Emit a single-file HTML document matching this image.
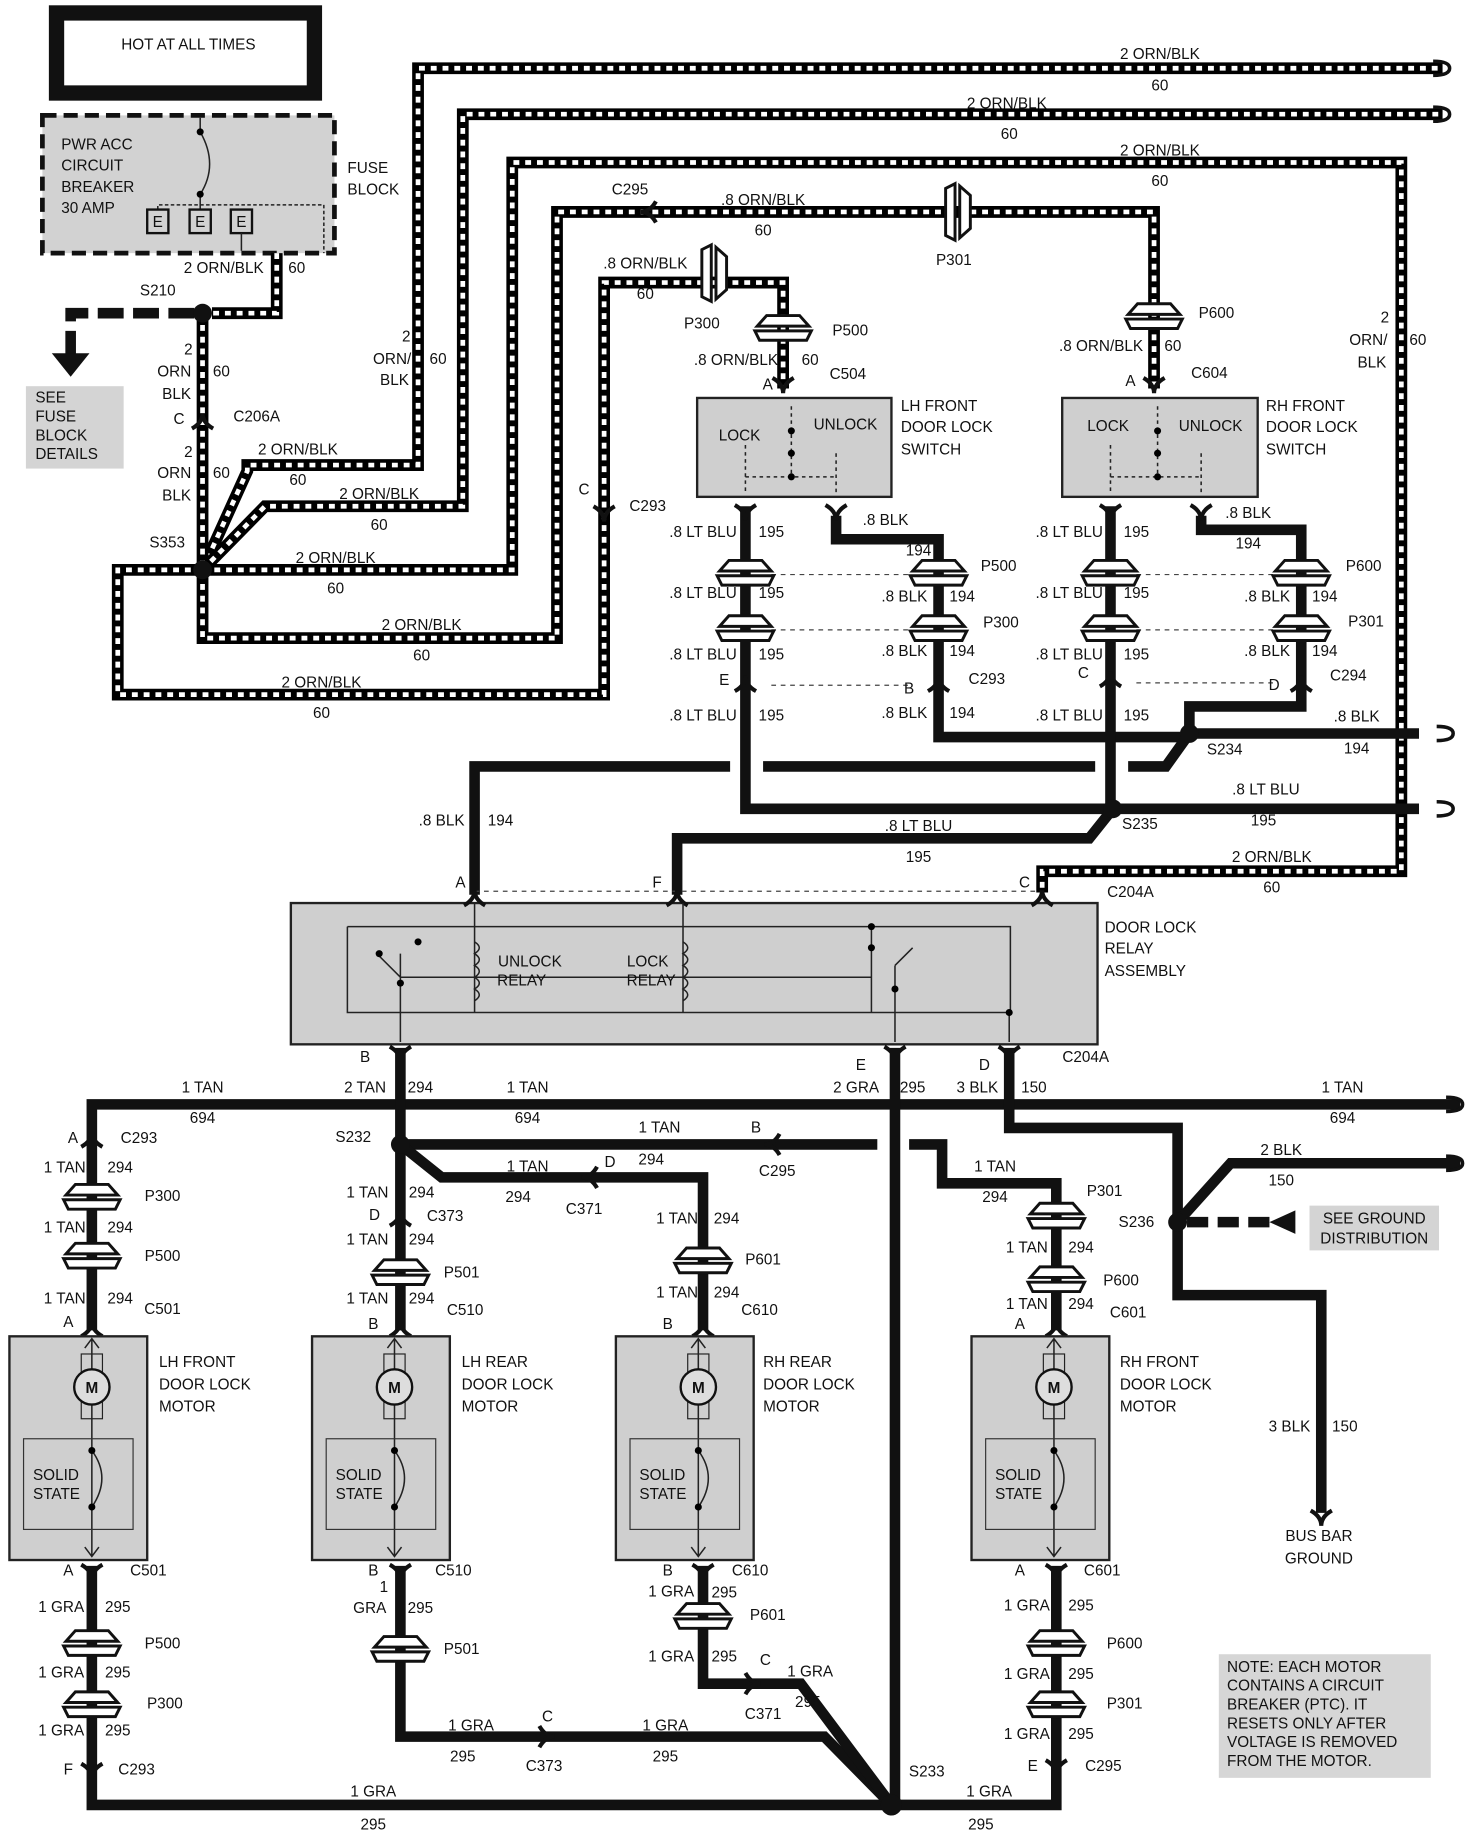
<!DOCTYPE html>
<html><head><meta charset="utf-8"><style>
html,body{margin:0;padding:0;background:#fff}
svg{display:block}
text{font-family:"Liberation Sans",sans-serif;font-size:13px;fill:#111;text-anchor:middle}
.l{text-anchor:start}
.hb{stroke:#000;stroke-width:10;fill:none;stroke-linejoin:miter}
.hw{stroke:#fff;stroke-width:4;stroke-dasharray:5 5;fill:none}
.s{stroke:#111;stroke-width:9;fill:none}
.t{stroke:#222;stroke-width:1.3;fill:none}
.d{stroke:#444;stroke-width:1;fill:none;stroke-dasharray:4 4}
.g{fill:#cfcfcf;stroke:#222;stroke-width:2}
</style></head><body>
<svg width="1472" height="1832" viewBox="0 0 1250 1556" preserveAspectRatio="none" xmlns="http://www.w3.org/2000/svg">
<defs>
<g id="plug"><path d="M-14,-12 L14,-12 L22,-3 L-22,-3 Z" fill="#fff" stroke="#111" stroke-width="2.5"/><path d="M-24,1 L24,1 L20,9 L-20,9 Z" fill="#fff" stroke="#111" stroke-width="2.5"/></g>
<g id="conn"><path d="M-9,-7 Q0,-2 0,6 M9,-7 Q0,-2 0,6" stroke="#111" stroke-width="3.5" fill="none"/></g>
<g id="ends"><path d="M-8,-6 Q6,-6 6,0 Q6,6 -8,6" stroke="#111" stroke-width="3" fill="none"/></g>
<path id="h1" d="M172,484 L210,400 L210,395 L355,395 L355,58 L1225,58"/>
<path id="h2" d="M172,484 L225,430 L393,430 L393,97 L1225,97"/>
<path id="h3" d="M172,484 L435,484 L435,138 L1190,138 L1190,740 L885,740 L885,758"/>
<path id="h4" d="M172,266 L172,542 L473,542 L473,180 L980,180 L980,330"/>
<path id="h5" d="M172,484 L100,484 L100,590 L513,590 L513,240 L665,240 L665,330"/>
<path id="h6" d="M235,215 L235,266 L180,266"/>
</defs>

<rect x="48" y="11" width="219" height="68" fill="#fff" stroke="#111" stroke-width="13"/>
<text x="160" y="42">HOT AT ALL TIMES</text>

<rect x="36" y="98" width="248" height="117" fill="#d2d2d2" stroke="#111" stroke-width="4" stroke-dasharray="12 6"/>
<text class="l" x="52" y="127">PWR ACC</text><text class="l" x="52" y="145">CIRCUIT</text><text class="l" x="52" y="163">BREAKER</text><text class="l" x="52" y="181">30 AMP</text>
<path class="t" d="M170,100 L170,112 Q186,140 170,165 L170,178"/>
<circle cx="170" cy="112" r="3"/><circle cx="170" cy="165" r="3"/>
<path class="t" d="M134,178 L134,174 L275,174 L275,215" stroke-dasharray="3 2"/>
<rect x="125" y="178" width="18" height="20" fill="none" stroke="#111" stroke-width="2"/><text x="134" y="193">E</text>
<rect x="161" y="178" width="18" height="20" fill="none" stroke="#111" stroke-width="2"/><text x="170" y="193">E</text>
<rect x="196" y="178" width="18" height="20" fill="none" stroke="#111" stroke-width="2"/><text x="205" y="193">E</text>
<path class="t" d="M205,198 L205,213"/>
<text class="l" x="295" y="147">FUSE</text><text class="l" x="295" y="165">BLOCK</text>

<use href="#h1" class="hb"/><use href="#h1" class="hw"/>
<use href="#h2" class="hb"/><use href="#h2" class="hw"/>
<use href="#h3" class="hb"/><use href="#h3" class="hw"/>
<use href="#h4" class="hb"/><use href="#h4" class="hw"/>
<use href="#h5" class="hb"/><use href="#h5" class="hw"/>
<use href="#h6" class="hb"/><use href="#h6" class="hw"/>

<path d="M165,266 L60,266 L60,302" stroke="#111" stroke-width="9" fill="none" stroke-dasharray="22 8"/>
<polygon points="44,300 76,300 60,320" fill="#111"/>
<rect x="22" y="328" width="83" height="70" fill="#d4d4d4"/>
<text class="l" x="30" y="342">SEE</text><text class="l" x="30" y="358">FUSE</text><text class="l" x="30" y="374">BLOCK</text><text class="l" x="30" y="390">DETAILS</text>

<text x="190" y="232">2 ORN/BLK</text><text x="252" y="232">60</text>
<text x="134" y="251">S210</text>
<text x="160" y="301">2</text><text x="148" y="320">ORN</text><text x="150" y="339">BLK</text><text x="188" y="320">60</text>
<use href="#conn" x="172" y="357" transform="rotate(180 172 357)"/>
<text x="152" y="360">C</text><text x="218" y="358">C206A</text>
<text x="160" y="388">2</text><text x="148" y="406">ORN</text><text x="150" y="425">BLK</text><text x="188" y="406">60</text>
<text x="142" y="465">S353</text>
<text x="253" y="386">2 ORN/BLK</text><text x="253" y="412">60</text>
<text x="322" y="424">2 ORN/BLK</text><text x="322" y="450">60</text>
<text x="285" y="478">2 ORN/BLK</text><text x="285" y="504">60</text>
<text x="358" y="535">2 ORN/BLK</text><text x="358" y="561">60</text>
<text x="273" y="584">2 ORN/BLK</text><text x="273" y="610">60</text>
<text x="345" y="290">2</text><text x="333" y="309">ORN/</text><text x="335" y="327">BLK</text><text x="372" y="309">60</text>
<text x="985" y="50">2 ORN/BLK</text><text x="985" y="77">60</text>
<text x="855" y="92">2 ORN/BLK</text><text x="857" y="118">60</text>
<text x="985" y="132">2 ORN/BLK</text><text x="985" y="158">60</text>
<text x="1176" y="274">2</text><text x="1162" y="293">ORN/</text><text x="1165" y="312">BLK</text><text x="1204" y="293">60</text>
<text x="1080" y="732">2 ORN/BLK</text><text x="1080" y="758">60</text>
<use href="#ends" x="1225" y="58"/><use href="#ends" x="1225" y="97"/>

<use href="#conn" x="550" y="180" transform="rotate(90 550 180)"/>
<text x="535" y="165">C295</text><text x="648" y="174">.8 ORN/BLK</text><text x="648" y="200">60</text>
<g transform="rotate(90 812 180)"><use href="#plug" x="812" y="180"/></g>
<text x="810" y="225">P301</text>
<use href="#conn" x="513" y="437"/><text x="496" y="420">C</text><text x="550" y="434">C293</text>
<g transform="rotate(90 605 232)"><use href="#plug" x="605" y="232"/></g>
<text x="548" y="228">.8 ORN/BLK</text><text x="548" y="254">60</text><text x="596" y="279">P300</text>
<use href="#plug" x="665" y="280"/><text x="722" y="285">P500</text>
<text x="625" y="310">.8 ORN/BLK</text><text x="688" y="310">60</text>
<use href="#conn" x="665" y="328"/><text x="652" y="331">A</text><text x="720" y="322">C504</text>
<use href="#plug" x="980" y="270"/><text x="1033" y="270">P600</text>
<text x="935" y="298">.8 ORN/BLK</text><text x="996" y="298">60</text>
<use href="#conn" x="980" y="328"/><text x="960" y="328">A</text><text x="1027" y="321">C604</text>

<rect x="592" y="338" width="165" height="84" class="g"/>
<text x="628" y="374">LOCK</text><text x="718" y="365">UNLOCK</text>
<path class="t" d="M633,378 L633,420 M672,345 L672,405 M710,385 L710,420 M633,405 L710,405" stroke-dasharray="3 3"/>
<circle cx="672" cy="366" r="3"/><circle cx="672" cy="385" r="3"/><circle cx="672" cy="405" r="3"/>
<text class="l" x="765" y="349">LH FRONT</text><text class="l" x="765" y="367">DOOR LOCK</text><text class="l" x="765" y="386">SWITCH</text>
<rect x="902" y="338" width="166" height="84" class="g"/>
<text x="941" y="366">LOCK</text><text x="1028" y="366">UNLOCK</text>
<path class="t" d="M943,378 L943,420 M983,345 L983,405 M1020,385 L1020,420 M943,405 L1020,405" stroke-dasharray="3 3"/>
<circle cx="983" cy="366" r="3"/><circle cx="983" cy="385" r="3"/><circle cx="983" cy="405" r="3"/>
<text class="l" x="1075" y="349">RH FRONT</text><text class="l" x="1075" y="367">DOOR LOCK</text><text class="l" x="1075" y="386">SWITCH</text>

<path class="s" d="M633,430 L633,687 L1205,687"/>
<path class="s" d="M710,438 L710,458 L797,458 L797,626 L1005,626"/>
<path class="s" d="M1020,438 L1020,450 L1105,450 L1105,600 L1010,600 L1010,623 L1205,623"/>
<path class="s" d="M943,430 L943,687"/>
<path class="s" d="M403,760 L403,651 L620,651 M648,651 L930,651 M958,651 L990,651 L1010,623"/>
<path class="s" d="M945,687 L925,712 L575,712 L575,760"/>
<use href="#ends" x="1228" y="623"/><use href="#ends" x="1228" y="687"/>
<use href="#conn" x="633" y="436"/><use href="#conn" x="710" y="436"/><use href="#conn" x="943" y="436"/><use href="#conn" x="1020" y="436"/>
<path class="d" d="M655,488 L775,488 M655,535 L775,535 M655,582 L775,582 M965,488 L1083,488 M965,535 L1083,535 M965,580 L1083,580"/>
<use href="#plug" x="633" y="488"/><use href="#plug" x="633" y="535"/><use href="#plug" x="797" y="488"/><use href="#plug" x="797" y="535"/>
<use href="#plug" x="943" y="488"/><use href="#plug" x="943" y="535"/><use href="#plug" x="1105" y="488"/><use href="#plug" x="1105" y="535"/>
<use href="#conn" x="633" y="580" transform="rotate(180 633 580)"/><use href="#conn" x="797" y="580" transform="rotate(180 797 580)"/>
<use href="#conn" x="943" y="576" transform="rotate(180 943 576)"/><use href="#conn" x="1105" y="580" transform="rotate(180 1105 580)"/>
<text x="597" y="456">.8 LT BLU</text><text x="655" y="456">195</text><text x="752" y="446">.8 BLK</text><text x="780" y="472">194</text>
<text x="597" y="508">.8 LT BLU</text><text x="655" y="508">195</text><text x="768" y="511">.8 BLK</text><text x="817" y="511">194</text><text x="848" y="485">P500</text>
<text x="597" y="560">.8 LT BLU</text><text x="655" y="560">195</text><text x="768" y="557">.8 BLK</text><text x="817" y="557">194</text><text x="850" y="533">P300</text>
<text x="615" y="582">E</text><text x="772" y="589">B</text><text x="838" y="581">C293</text>
<text x="597" y="612">.8 LT BLU</text><text x="655" y="612">195</text><text x="768" y="610">.8 BLK</text><text x="817" y="610">194</text>
<text x="908" y="456">.8 LT BLU</text><text x="965" y="456">195</text><text x="1060" y="440">.8 BLK</text><text x="1060" y="466">194</text>
<text x="908" y="508">.8 LT BLU</text><text x="965" y="508">195</text><text x="1076" y="511">.8 BLK</text><text x="1125" y="511">194</text><text x="1158" y="485">P600</text>
<text x="908" y="560">.8 LT BLU</text><text x="965" y="560">195</text><text x="1076" y="557">.8 BLK</text><text x="1125" y="557">194</text><text x="1160" y="532">P301</text>
<text x="920" y="576">C</text><text x="1082" y="586">D</text><text x="1145" y="578">C294</text>
<text x="908" y="612">.8 LT BLU</text><text x="965" y="612">195</text>
<text x="1152" y="613">.8 BLK</text><text x="1152" y="640">194</text><text x="1040" y="641">S234</text>
<text x="1075" y="675">.8 LT BLU</text><text x="1073" y="701">195</text><text x="968" y="704">S235</text>
<text x="375" y="701">.8 BLK</text><text x="425" y="701">194</text>
<text x="780" y="706">.8 LT BLU</text><text x="780" y="732">195</text>

<path class="d" d="M403,757 L885,757"/>
<rect x="247" y="767" width="685" height="120" class="g"/>
<use href="#conn" x="403" y="762" transform="rotate(180 403 762)"/><use href="#conn" x="575" y="762" transform="rotate(180 575 762)"/><use href="#conn" x="885" y="762" transform="rotate(180 885 762)"/>
<text x="391" y="754">A</text><text x="558" y="754">F</text><text x="870" y="754">C</text><text x="960" y="762">C204A</text>
<path class="t" d="M295,787 L858,787 L858,860 M295,787 L295,860 L858,860 M340,810 L340,885 M340,830 L740,830 M320,810 L340,830 M403,767 L403,860 M580,767 L580,860 M740,785 L740,860 M760,820 L760,885 M760,820 L775,805 M857,860 L857,885" />
<path class="t" d="M403,800 q8,5 0,10 q8,5 0,10 q8,5 0,10 q8,5 0,10 q8,5 0,10 M580,800 q8,5 0,10 q8,5 0,10 q8,5 0,10 q8,5 0,10 q8,5 0,10"/>
<circle cx="322" cy="810" r="3"/><circle cx="340" cy="835" r="3"/><circle cx="355" cy="800" r="3"/><circle cx="740" cy="787" r="3"/><circle cx="740" cy="805" r="3"/><circle cx="760" cy="840" r="3"/><circle cx="857" cy="860" r="3"/>
<text x="450" y="821">UNLOCK</text><text x="443" y="837">RELAY</text><text x="550" y="821">LOCK</text><text x="553" y="837">RELAY</text>
<text class="l" x="938" y="792">DOOR LOCK</text><text class="l" x="938" y="810">RELAY</text><text class="l" x="938" y="829">ASSEMBLY</text>
<use href="#conn" x="340" y="896"/><use href="#conn" x="760" y="896"/><use href="#conn" x="857" y="896"/>
<text x="310" y="902">B</text><text x="731" y="909">E</text><text x="836" y="909">D</text><text x="922" y="902">C204A</text>

<path class="s" d="M78,1130 L78,938 L1240,938"/>
<path class="s" d="M340,890 L340,1130"/>
<path class="s" d="M340,972 L745,972 M772,972 L800,972 L800,1005 L897,1005 L897,1130"/>
<path class="s" d="M340,972 L375,1000 L597,1000 L597,1130"/>
<path class="s" d="M760,890 L760,1533"/>
<path class="s" d="M857,890 L857,958 L1000,958 L1000,1100 L1122,1100 L1122,1285"/>
<path class="s" d="M1000,1038 L1045,988 L1240,988"/>
<path class="s" d="M78,1330 L78,1533 L897,1533 L897,1330"/>
<path class="s" d="M340,1330 L340,1475 L700,1475 L757,1533"/>
<path class="s" d="M597,1330 L597,1430 L680,1430 L757,1533"/>
<use href="#ends" x="1236" y="938"/><use href="#ends" x="1236" y="988"/>
<path d="M1008,1038 L1080,1038" stroke="#111" stroke-width="9" stroke-dasharray="18 8"/>
<polygon points="1078,1038 1100,1028 1100,1048" fill="#111"/>
<rect x="1112" y="1024" width="110" height="38" fill="#d4d4d4"/>
<text x="1167" y="1039">SEE GROUND</text><text x="1167" y="1056">DISTRIBUTION</text>

<g fill="#111"><circle cx="172" cy="266" r="8"/><circle cx="172" cy="484" r="8"/><circle cx="1010" cy="623" r="8"/><circle cx="945" cy="687" r="8"/><circle cx="340" cy="972" r="8"/><circle cx="757" cy="1533" r="9"/><circle cx="1000" cy="1038" r="8"/></g>

<text x="172" y="928">1 TAN</text><text x="172" y="954">694</text><text x="310" y="928">2 TAN</text><text x="357" y="928">294</text>
<text x="448" y="928">1 TAN</text><text x="448" y="954">694</text><text x="727" y="928">2 GRA</text><text x="775" y="928">295</text>
<text x="830" y="928">3 BLK</text><text x="878" y="928">150</text><text x="1140" y="928">1 TAN</text><text x="1140" y="954">694</text>
<text x="300" y="970">S232</text><text x="560" y="962">1 TAN</text><text x="553" y="989">294</text>
<use href="#conn" x="655" y="972" transform="rotate(90 655 972)"/><text x="642" y="962">B</text><text x="660" y="999">C295</text>
<text x="448" y="995">1 TAN</text><text x="440" y="1021">294</text>
<use href="#conn" x="500" y="1000" transform="rotate(90 500 1000)"/><text x="518" y="991">D</text><text x="496" y="1031">C371</text>
<text x="845" y="995">1 TAN</text><text x="845" y="1021">294</text>
<text x="1088" y="981">2 BLK</text><text x="1088" y="1007">150</text><text x="965" y="1042">S236</text>
<text x="1095" y="1216">3 BLK</text><text x="1142" y="1216">150</text>
<use href="#conn" x="1122" y="1290"/>
<text x="1120" y="1309">BUS BAR</text><text x="1120" y="1328">GROUND</text>

<use href="#conn" x="78" y="967" transform="rotate(180 78 967)"/><text x="62" y="971">A</text><text x="118" y="971">C293</text>
<text x="55" y="996">1 TAN</text><text x="102" y="996">294</text><use href="#plug" x="78" y="1018"/><text x="138" y="1020">P300</text>
<text x="55" y="1047">1 TAN</text><text x="102" y="1047">294</text><use href="#plug" x="78" y="1068"/><text x="138" y="1071">P500</text>
<text x="55" y="1107">1 TAN</text><text x="102" y="1107">294</text><use href="#conn" x="78" y="1128" transform="rotate(180 78 1128)"/><text x="58" y="1127">A</text><text x="138" y="1116">C501</text>
<text x="312" y="1017">1 TAN</text><text x="358" y="1017">294</text><use href="#conn" x="340" y="1034" transform="rotate(180 340 1034)"/><text x="318" y="1036">D</text><text x="378" y="1037">C373</text>
<text x="312" y="1057">1 TAN</text><text x="358" y="1057">294</text><use href="#plug" x="340" y="1082"/><text x="392" y="1085">P501</text>
<text x="312" y="1107">1 TAN</text><text x="358" y="1107">294</text><use href="#conn" x="340" y="1128" transform="rotate(180 340 1128)"/><text x="317" y="1129">B</text><text x="395" y="1117">C510</text>
<text x="575" y="1039">1 TAN</text><text x="617" y="1039">294</text><use href="#plug" x="597" y="1072"/><text x="648" y="1074">P601</text>
<text x="575" y="1102">1 TAN</text><text x="617" y="1102">294</text><use href="#conn" x="597" y="1128" transform="rotate(180 597 1128)"/><text x="567" y="1129">B</text><text x="645" y="1117">C610</text>
<use href="#plug" x="897" y="1034"/><text x="938" y="1016">P301</text>
<text x="872" y="1064">1 TAN</text><text x="918" y="1064">294</text><use href="#plug" x="897" y="1088"/><text x="952" y="1092">P600</text>
<text x="872" y="1112">1 TAN</text><text x="918" y="1112">294</text><use href="#conn" x="897" y="1128" transform="rotate(180 897 1128)"/><text x="866" y="1129">A</text><text x="958" y="1119">C601</text>

<g id="m1">
<rect x="8" y="1135" width="117" height="190" class="g" stroke-width="3"/>
<path class="t" d="M78,1137 L78,1322 M72,1145 L78,1137 L84,1145 M72,1314 L78,1322 L84,1314"/>
<rect x="69" y="1150" width="18" height="55" fill="none" stroke="#222"/>
<circle cx="78" cy="1178" r="15" fill="#ddd" stroke="#111" stroke-width="2"/>
<text x="78" y="1183" style="font-weight:bold">M</text>
<rect x="20" y="1222" width="93" height="77" fill="none" stroke="#333"/>
<path class="t" d="M78,1232 Q95,1255 78,1280"/><circle cx="78" cy="1232" r="3"/><circle cx="78" cy="1280" r="3"/>
<text class="l" x="28" y="1257">SOLID</text><text class="l" x="28" y="1273">STATE</text>
</g>
<use href="#m1" x="257"/><use href="#m1" x="515"/><use href="#m1" x="817"/>
<text class="l" x="135" y="1161">LH FRONT</text><text class="l" x="135" y="1180">DOOR LOCK</text><text class="l" x="135" y="1199">MOTOR</text>
<text class="l" x="392" y="1161">LH REAR</text><text class="l" x="392" y="1180">DOOR LOCK</text><text class="l" x="392" y="1199">MOTOR</text>
<text class="l" x="648" y="1161">RH REAR</text><text class="l" x="648" y="1180">DOOR LOCK</text><text class="l" x="648" y="1199">MOTOR</text>
<text class="l" x="951" y="1161">RH FRONT</text><text class="l" x="951" y="1180">DOOR LOCK</text><text class="l" x="951" y="1199">MOTOR</text>

<use href="#conn" x="78" y="1336"/><text x="58" y="1338">A</text><text x="126" y="1338">C501</text>
<text x="52" y="1369">1 GRA</text><text x="100" y="1369">295</text><use href="#plug" x="78" y="1397"/><text x="138" y="1400">P500</text>
<text x="52" y="1425">1 GRA</text><text x="100" y="1425">295</text><use href="#plug" x="78" y="1449"/><text x="140" y="1451">P300</text>
<text x="52" y="1474">1 GRA</text><text x="100" y="1474">295</text><use href="#conn" x="78" y="1505"/><text x="58" y="1507">F</text><text x="116" y="1507">C293</text>
<text x="317" y="1526">1 GRA</text><text x="317" y="1554">295</text>

<use href="#conn" x="340" y="1336"/><text x="317" y="1338">B</text><text x="385" y="1338">C510</text>
<text x="326" y="1352">1</text><text x="314" y="1370">GRA</text><text x="357" y="1370">295</text>
<use href="#plug" x="340" y="1402"/><text x="392" y="1405">P501</text>
<text x="400" y="1470">1 GRA</text><text x="393" y="1496">295</text>
<use href="#conn" x="465" y="1475" transform="rotate(-90 465 1475)"/><text x="465" y="1462">C</text><text x="462" y="1504">C373</text>
<text x="565" y="1470">1 GRA</text><text x="565" y="1496">295</text>

<use href="#conn" x="597" y="1336"/><text x="567" y="1338">B</text><text x="637" y="1338">C610</text>
<text x="570" y="1356">1 GRA</text><text x="615" y="1357">295</text><use href="#plug" x="597" y="1374"/><text x="652" y="1376">P601</text>
<text x="570" y="1411">1 GRA</text><text x="615" y="1411">295</text>
<use href="#conn" x="640" y="1430" transform="rotate(-90 640 1430)"/><text x="650" y="1414">C</text><text x="648" y="1460">C371</text>
<text x="688" y="1424">1 GRA</text><text x="686" y="1450">295</text>

<use href="#conn" x="897" y="1336"/><text x="866" y="1338">A</text><text x="936" y="1338">C601</text>
<text x="872" y="1368">1 GRA</text><text x="918" y="1368">295</text><use href="#plug" x="897" y="1397"/><text x="955" y="1400">P600</text>
<text x="872" y="1426">1 GRA</text><text x="918" y="1426">295</text><use href="#plug" x="897" y="1449"/><text x="955" y="1451">P301</text>
<text x="872" y="1477">1 GRA</text><text x="918" y="1477">295</text><use href="#conn" x="897" y="1502"/><text x="877" y="1504">E</text><text x="937" y="1504">C295</text>
<text x="840" y="1526">1 GRA</text><text x="833" y="1554">295</text><text x="787" y="1509">S233</text>

<rect x="1035" y="1405" width="180" height="105" fill="#d6d6d6"/>
<text class="l" x="1042" y="1420">NOTE: EACH MOTOR</text><text class="l" x="1042" y="1436">CONTAINS A CIRCUIT</text><text class="l" x="1042" y="1452">BREAKER (PTC). IT</text>
<text class="l" x="1042" y="1468">RESETS ONLY AFTER</text><text class="l" x="1042" y="1484">VOLTAGE IS REMOVED</text><text class="l" x="1042" y="1500">FROM THE MOTOR.</text>
</svg>
</body></html>
